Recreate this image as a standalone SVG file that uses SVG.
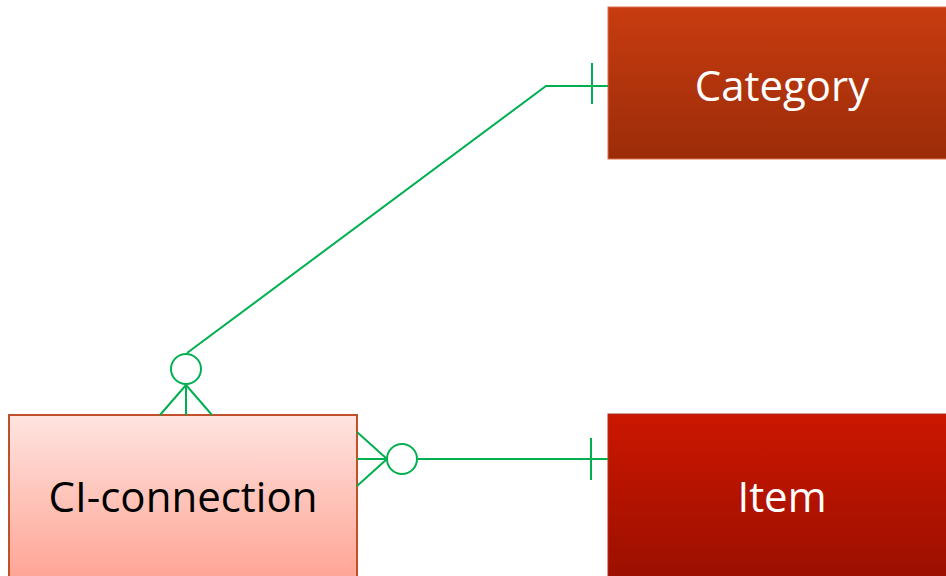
<svg xmlns="http://www.w3.org/2000/svg" width="946" height="576" viewBox="0 0 946 576">
<defs>
<linearGradient id="gCat" x1="0" y1="0" x2="0" y2="1">
<stop offset="0" stop-color="#C83C10"/>
<stop offset="1" stop-color="#9B2C08"/>
</linearGradient>
<linearGradient id="gItem" x1="0" y1="0" x2="0" y2="1">
<stop offset="0" stop-color="#CB1700"/>
<stop offset="1" stop-color="#9C0F00"/>
</linearGradient>
<linearGradient id="gCI" x1="0" y1="0" x2="0" y2="1">
<stop offset="0" stop-color="#FFE4E0"/>
<stop offset="1" stop-color="#FFA595"/>
</linearGradient>
</defs>
<style>
.conn{stroke:#00B050;stroke-width:2;fill:none}
.lbl{font-family:"Open Sans","Liberation Sans",sans-serif;font-size:42px;text-anchor:middle}
</style>
<rect width="946" height="576" fill="#FFFFFF"/>
<g id="category">
<rect x="608" y="7" width="340" height="152" fill="url(#gCat)" stroke="#D9704F" stroke-width="1"/>
<text class="lbl" x="782" y="101" fill="#FFFFFF">Category</text>
</g>
<g id="item">
<rect x="608" y="414" width="340" height="164" fill="url(#gItem)" stroke="#B03010" stroke-width="1"/>
<text class="lbl" x="782" y="512" fill="#FFFFFF">Item</text>
</g>
<g id="ci-connection">
<rect x="9" y="415" width="348" height="163" fill="url(#gCI)" stroke="#C0502A" stroke-width="2"/>
<text class="lbl" x="183" y="512" fill="#000000">CI-connection</text>
</g>
<g id="connectors">
<path class="conn" d="M608,86 H546 L187,353"/>
<line class="conn" x1="592" y1="63" x2="592" y2="104"/>
<circle class="conn" cx="186" cy="369" r="15"/>
<path class="conn" d="M186,385 L160,415 M186,385 V415 M186,385 L212,415"/>
<path class="conn" d="M608,459 H417"/>
<line class="conn" x1="591" y1="438" x2="591" y2="480"/>
<circle class="conn" cx="402" cy="459" r="15"/>
<path class="conn" d="M387,459 L357,432 M387,459 H357 M387,459 L357,486"/>
</g>
</svg>
